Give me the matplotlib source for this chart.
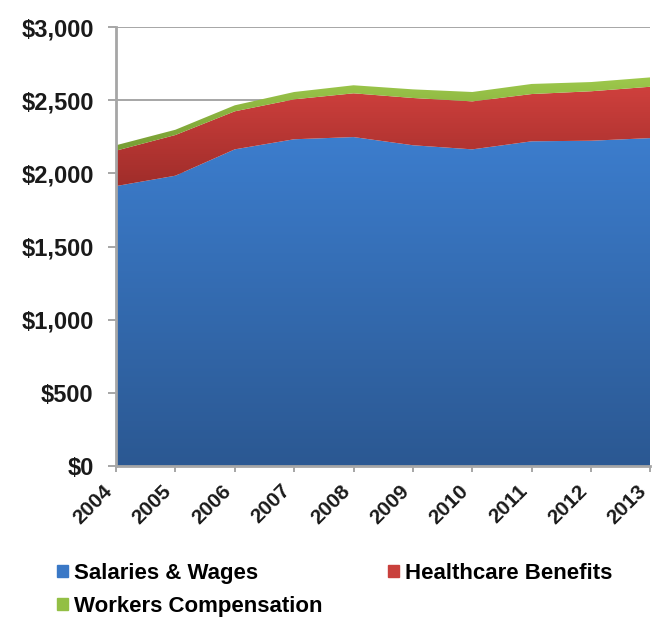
import numpy as np
import matplotlib
matplotlib.use("Agg")
import matplotlib.pyplot as plt
from matplotlib.colors import LinearSegmentedColormap
from matplotlib.patches import Patch

years = [2004, 2005, 2006, 2007, 2008, 2009, 2010, 2011, 2012, 2013]
salaries = [1913, 1984, 2164, 2233, 2248, 2192, 2164, 2219, 2223, 2241]
healthcare = [242, 278, 260, 273, 299, 323, 328, 323, 338, 351]
workers = [37, 36, 41, 50, 55, 59, 64, 69, 63, 64]
labels = ["Salaries & Wages", "Healthcare Benefits", "Workers Compensation"]
yticks = [0, 500, 1000, 1500, 2000, 2500, 3000]

plt.rcParams['font.family'] = ['Liberation Sans', 'DejaVu Sans']
plt.rcParams['font.weight'] = 'bold'

fig = plt.figure(figsize=(6.59, 6.17), dpi=100)
ax = fig.add_axes([0.176, 0.2447, 0.8111, 0.7115])

x = np.array(years, dtype=float)
layers = [np.array(salaries, float), np.array(healthcare, float), np.array(workers, float)]
# bottom colour, top colour of each band
shades = [("#2b5892", "#3c7dcd"), ("#a02d2a", "#cf403d"), ("#769c33", "#9ec94c")]
legend_cols = ["#3a78c6", "#c9403c", "#93bf45"]

def gradient_band(lo, hi, c0, c1):
    band = ax.fill_between(x, lo, hi, facecolor='none', lw=0, zorder=2)
    cmap = LinearSegmentedColormap.from_list("band", [c0, c1])
    grad = np.linspace(0, 1, 256).reshape(-1, 1)
    im = ax.imshow(grad, cmap=cmap, aspect='auto', origin='lower',
                   extent=[x[0], x[-1], lo.min(), hi.max()], zorder=2,
                   interpolation='bicubic')
    im.set_clip_path(band.get_paths()[0], ax.transData)

base = np.zeros_like(x)
for vals, (c0, c1) in zip(layers, shades):
    top = base + vals
    gradient_band(base, top, c0, c1)
    base = top

ax.set_xlim(2004, 2013)
ax.set_ylim(0, 3000)
ax.set_yticks(yticks)
ax.set_yticklabels(["${:,}".format(v) for v in yticks], fontsize=17)
ax.set_xticks(years)
# anchor the bottom-right corner so the slanted label ends at the tick
ax.set_xticklabels([str(y) for y in years], rotation=45, ha='right', va='bottom',
                   rotation_mode='anchor', fontsize=15)
ax.yaxis.grid(True, color="#a6a6a6", lw=1.4, zorder=1)
ax.set_axisbelow(True)

for s in ['top', 'right']:
    ax.spines[s].set_visible(False)
for s in ['left', 'bottom']:
    ax.spines[s].set_color("#a6a6a6")
    ax.spines[s].set_linewidth(2)
ax.tick_params(axis='both', colors="#a6a6a6", labelcolor="#1a1a1a", width=1.4)
ax.tick_params(axis='y', length=6, pad=10)
ax.tick_params(axis='x', length=4.5, pad=16)

handles = [Patch(color=legend_cols[0], label=labels[0]),
           Patch(color=legend_cols[2], label=labels[2]),
           Patch(color=legend_cols[1], label=labels[1])]
fig.legend(handles=handles, ncol=2, loc='upper left', bbox_to_anchor=(0.0865, 0.088),
           frameon=False, fontsize=16, handlelength=0.48, handleheight=0.48,
           handletextpad=0.28, columnspacing=2.95, labelspacing=0.56,
           borderaxespad=0, borderpad=0)

fig.savefig("out.png", dpi=100)
